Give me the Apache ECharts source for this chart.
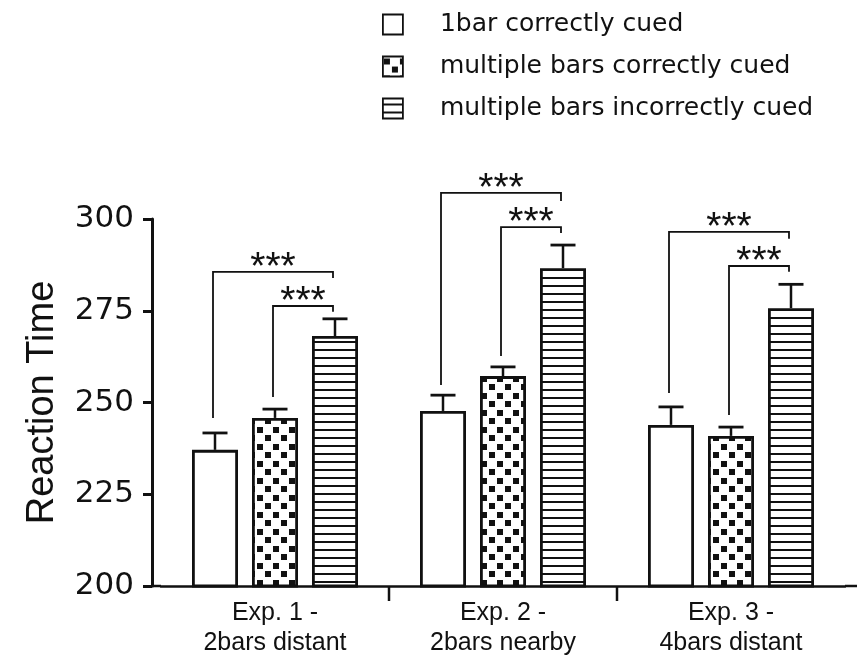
<!DOCTYPE html>
<html><head><meta charset="utf-8">
<script src="https://cdn.jsdelivr.net/npm/echarts@6/dist/echarts.min.js"></script>
<style>html,body{margin:0;padding:0;background:#fff}#chart{width:859px;height:661px}</style>
</head><body><div id="chart"></div>
<script>
const categories = ['Exp. 1 -\n2bars distant', 'Exp. 2 -\n2bars nearby', 'Exp. 3 -\n4bars distant'];
const seriesNames = ['1bar correctly cued', 'multiple bars correctly cued', 'multiple bars incorrectly cued'];
const oneBarCorrect = [237.1, 247.7, 243.9];
const oneBarCorrectErr = [4.6, 4.3, 4.9];
const multiCorrect = [245.8, 257.2, 240.9];
const multiCorrectErr = [2.4, 2.5, 2.4];
const multiIncorrect = [268.1, 286.6, 275.7];
const multiIncorrectErr = [4.7, 6.3, 6.5];
const yTicks = [200, 225, 250, 275, 300];
const yAxisName = 'Reaction Time';
// significance brackets: category, left series, right series, bracket level, left leg end, right leg end
const bracketCat = [0, 0, 1, 1, 2, 2];
const bracketLeft = [0, 1, 0, 1, 0, 1];
const bracketRight = [2, 2, 2, 2, 2, 2];
const bracketLevel = [285.6, 276.3, 307.1, 297.8, 296.5, 287.2];
const bracketLeftEnd = [245.8, 251.5, 254.8, 262.7, 252.6, 246.6];
const bracketRightEnd = [283.9, 274.7, 304.9, 296.2, 294.6, 285.6];
const bracketLabel = ['***', '***', '***', '***', '***', '***'];

const INK = '#111';
const BAR_W = 46, BAR_GAP = 14;
function barOffset(s) { return (s - 1) * (BAR_W + BAR_GAP); }

function stripePattern() {
  const c = document.createElement('canvas'); c.width = 8; c.height = 8;
  const g = c.getContext('2d');
  g.fillStyle = '#fff'; g.fillRect(0, 0, 8, 8);
  g.fillStyle = INK; g.fillRect(0, 5, 8, 2);
  return c;
}
function checkerPattern() {
  const c = document.createElement('canvas'); c.width = 16; c.height = 17;
  const g = c.getContext('2d');
  g.fillStyle = '#fff'; g.fillRect(0, 0, 16, 17);
  g.fillStyle = INK; g.fillRect(1, 2, 6, 6); g.fillRect(9, 10, 6, 6);
  return c;
}

const values = [oneBarCorrect, multiCorrect, multiIncorrect];
const errs = [oneBarCorrectErr, multiCorrectErr, multiIncorrectErr];
const fills = ['#fff', { image: checkerPattern(), repeat: 'repeat' }, { image: stripePattern(), repeat: 'repeat' }];

const barSeries = values.map((v, s) => ({
  name: seriesNames[s], type: 'bar', data: v,
  barWidth: BAR_W, barGap: (BAR_GAP / BAR_W * 100) + '%',
  itemStyle: { color: fills[s], borderColor: INK, borderWidth: 2.8 },
  emphasis: { disabled: true }, z: 2
}));

const errData = [];
values.forEach((v, s) => v.forEach((val, c) => errData.push([c, val, val + errs[s][c], s])));

const bracketData = bracketCat.map((c, i) => [c, bracketLevel[i], bracketLeftEnd[i], bracketRightEnd[i], bracketLeft[i], bracketRight[i], i]);

const chart = echarts.init(document.getElementById('chart'), null, { renderer: 'canvas' });
chart.setOption({
  backgroundColor: '#fff',
  animation: false,
  legend: {
    data: seriesNames, orient: 'vertical', left: 382, top: 12, padding: 0,
    icon: 'rect',
    itemWidth: 20, itemHeight: 20, itemGap: 17, selectedMode: false,
    itemStyle: { borderColor: INK, borderWidth: 1.8 },
    textStyle: { fontFamily: 'DejaVu Sans', fontSize: 25, color: INK, padding: [0, 0, 0, 32] }
  },
  grid: { left: 161, right: 14, top: 219, bottom: 75 },
  xAxis: {
    type: 'category', data: categories,
    axisLine: { lineStyle: { color: INK, width: 2.5 } },
    axisTick: { show: false },
    axisLabel: { fontFamily: 'Liberation Sans', fontSize: 25, lineHeight: 30, color: INK, margin: 12 }
  },
  yAxis: {
    type: 'value', min: yTicks[0], max: yTicks[yTicks.length - 1], interval: yTicks[1] - yTicks[0],
    offset: 9,
    name: yAxisName, nameLocation: 'middle', nameGap: 90, nameRotate: 90,
    nameTextStyle: { fontFamily: 'Liberation Sans', fontSize: 38, color: INK },
    axisLine: { show: true, lineStyle: { color: INK, width: 3 } },
    axisTick: { show: true, length: 9, lineStyle: { color: INK, width: 3 } },
    axisLabel: { fontFamily: 'DejaVu Sans', fontSize: 31, color: INK, margin: 18 },
    splitLine: { show: false }
  },
  series: barSeries.concat([
    {
      type: 'custom', name: 'err', data: errData, z: 3, silent: true,
      encode: { x: 0, y: [1, 2] },
      renderItem(params, api) {
        const c = api.value(0), s = api.value(3);
        const p0 = api.coord([c, api.value(1)]), p1 = api.coord([c, api.value(2)]);
        const x = p0[0] + barOffset(s);
        return { type: 'group', children: [
          { type: 'line', shape: { x1: x, y1: p0[1], x2: x, y2: p1[1] }, style: { stroke: INK, lineWidth: 2.5 } },
          { type: 'line', shape: { x1: x - 12.5, y1: p1[1], x2: x + 12.5, y2: p1[1] }, style: { stroke: INK, lineWidth: 2.8 } }
        ] };
      }
    },
    {
      type: 'custom', name: 'brackets', data: bracketData, z: 3, silent: true, clip: false,
      encode: { x: 0, y: 1 },
      renderItem(params, api) {
        const c = api.value(0);
        const top = api.coord([c, api.value(1)]);
        const yl = api.coord([c, api.value(2)])[1];
        const yr = api.coord([c, api.value(3)])[1];
        const xl = top[0] + barOffset(api.value(4)) - 2;
        const xr = top[0] + barOffset(api.value(5)) - 2;
        return { type: 'group', children: [
          { type: 'polyline', shape: { points: [[xl, yl], [xl, top[1]], [xr, top[1]], [xr, yr]] }, style: { stroke: INK, lineWidth: 1.8, fill: null } },
          { type: 'text', style: { text: bracketLabel[api.value(6)], x: (xl + xr) / 2, y: top[1] + 16, align: 'center', verticalAlign: 'bottom', font: '39px "Liberation Sans"', fill: INK } }
        ] };
      }
    },
    {
      type: 'custom', name: 'frame', data: categories.map((_, i) => [i, yTicks[0]]), z: 4, silent: true, clip: false,
      encode: { x: 0, y: 1 },
      renderItem(params, api) {
        const c = api.value(0);
        const p = api.coord([c, api.value(1)]);
        const band = api.size([1, 0])[0];
        const kids = [];
        if (c < categories.length - 1) kids.push({ type: 'line', shape: { x1: p[0] + band / 2, y1: p[1], x2: p[0] + band / 2, y2: p[1] + 15 }, style: { stroke: INK, lineWidth: 2.5 } });
        if (c === 0) kids.push({ type: 'line', shape: { x1: p[0] - band / 2 - 10, y1: p[1], x2: p[0] - band / 2, y2: p[1] }, style: { stroke: INK, lineWidth: 2.5 } });
        if (c === categories.length - 1) kids.push({ type: 'line', shape: { x1: p[0] + band / 2, y1: p[1], x2: p[0] + band / 2 + 12, y2: p[1] }, style: { stroke: INK, lineWidth: 2.5 } });
        return { type: 'group', children: kids };
      }
    }
  ])
});
</script></body></html>
